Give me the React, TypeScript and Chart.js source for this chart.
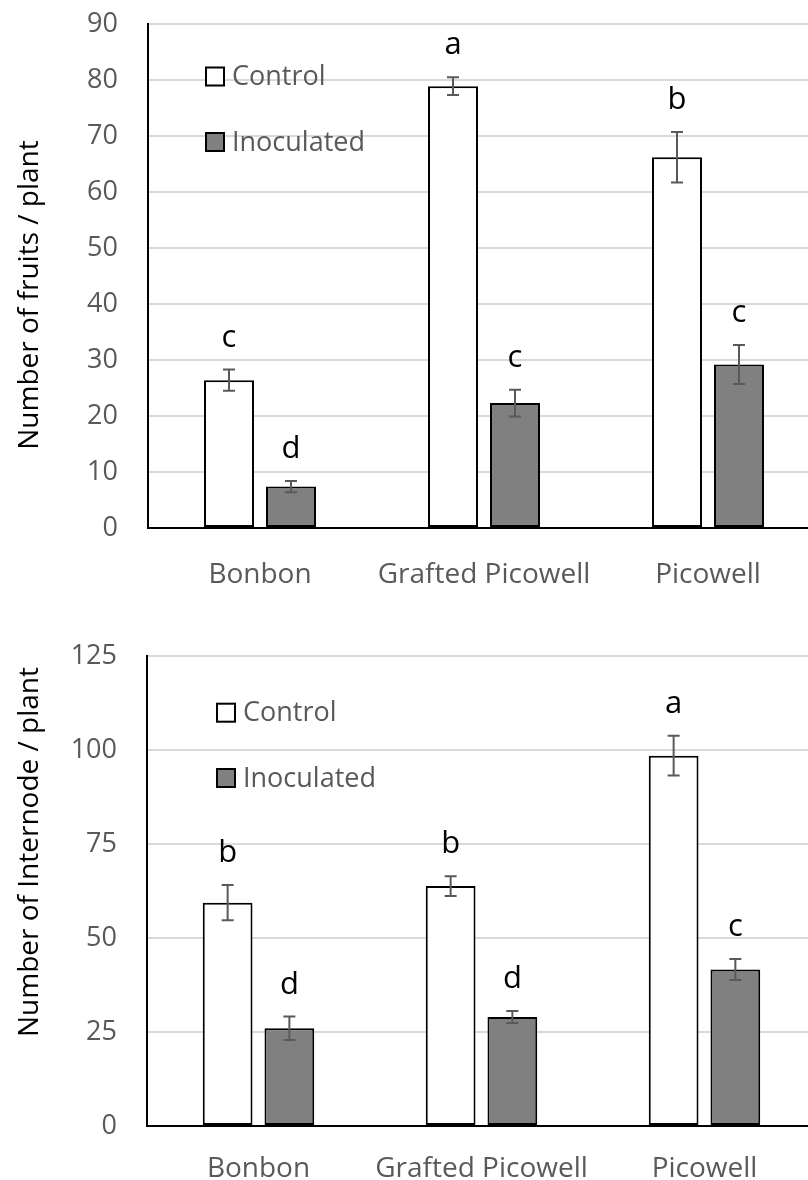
import React, { useEffect, useRef } from "react";
import { Chart, registerables } from "chart.js";

Chart.register(...registerables);

// ---------- DATA ----------
const categories = ["Bonbon", "Grafted Picowell", "Picowell"];
const seriesNames = ["Control", "Inoculated"];

const fruitsControl = [26.4, 78.9, 66.2];
const fruitsControlErr = [1.9, 1.6, 4.5];
const fruitsControlLetters = ["c", "a", "b"];
const fruitsInoculated = [7.4, 22.3, 29.2];
const fruitsInoculatedErr = [1.0, 2.4, 3.5];
const fruitsInoculatedLetters = ["d", "c", "c"];
const fruitsAxisMax = 90;
const fruitsAxisStep = 10;
const fruitsTitle = "Number of fruits / plant";

const internodeControl = [59.4, 63.8, 98.5];
const internodeControlErr = [4.7, 2.6, 5.3];
const internodeControlLetters = ["b", "b", "a"];
const internodeInoculated = [26.0, 29.0, 41.6];
const internodeInoculatedErr = [3.1, 1.6, 2.8];
const internodeInoculatedLetters = ["d", "d", "c"];
const internodeAxisMax = 125;
const internodeAxisStep = 25;
const internodeTitle = "Number of Internode / plant";

// ---------- STYLE ----------
const FONT = "'Open Sans', sans-serif";
const controlFill = "#ffffff";
const inoculatedFill = "#808080";
const grayText = "#595959";

type PanelProps = {
  control: number[];
  controlErr: number[];
  controlLetters: string[];
  inoculated: number[];
  inoculatedErr: number[];
  inoculatedLetters: string[];
  max: number;
  step: number;
  title: string;
  top: number;
  width: number;
  height: number;
  padTop: number;
  padRight: number;
  axisLeft: number;
  xAxisHeight: number;
  xPad: number;
  legendX: number;
  legendYs: number[];
  titleX: number;
  titleY: number;
};

function Panel(p: PanelProps) {
  const ref = useRef<HTMLCanvasElement>(null);

  useEffect(() => {
    const canvas = ref.current;
    if (!canvas) return;

    const errorPlugin = {
      id: "errorsAndLetters",
      afterDatasetsDraw(chart: any) {
        const ctx = chart.ctx;
        const ys = chart.scales.y;
        chart.data.datasets.forEach((ds: any, i: number) => {
          const meta = chart.getDatasetMeta(i);
          meta.data.forEach((bar: any, j: number) => {
            const v = ds.data[j];
            const e = ds.errors[j];
            const yt = ys.getPixelForValue(v + e);
            const yb = ys.getPixelForValue(v - e);
            ctx.save();
            ctx.strokeStyle = grayText;
            ctx.lineWidth = 2;
            ctx.beginPath();
            ctx.moveTo(bar.x, yt);
            ctx.lineTo(bar.x, yb);
            ctx.moveTo(bar.x - 6, yt);
            ctx.lineTo(bar.x + 6, yt);
            ctx.moveTo(bar.x - 6, yb);
            ctx.lineTo(bar.x + 6, yb);
            ctx.stroke();
            ctx.fillStyle = "#000";
            ctx.font = `31px ${FONT}`;
            ctx.textAlign = "center";
            ctx.textBaseline = "alphabetic";
            ctx.fillText(ds.letters[j], bar.x, yt - 23);
            ctx.restore();
          });
        });
      },
    };

    const legendPlugin = {
      id: "insideLegend",
      afterDraw(chart: any) {
        const ctx = chart.ctx;
        chart.data.datasets.forEach((ds: any, i: number) => {
          const cy = p.legendYs[i];
          const size = 18;
          ctx.save();
          ctx.fillStyle = ds.backgroundColor;
          ctx.fillRect(p.legendX, cy - size / 2, size, size);
          ctx.strokeStyle = "#000";
          ctx.lineWidth = 2;
          ctx.strokeRect(p.legendX, cy - size / 2, size, size);
          ctx.fillStyle = grayText;
          ctx.font = `27px ${FONT}`;
          ctx.textAlign = "left";
          ctx.textBaseline = "middle";
          ctx.fillText(ds.label, p.legendX + size + 8, cy + 1);
          ctx.restore();
        });
      },
    };

    const titlePlugin = {
      id: "yTitle",
      afterDraw(chart: any) {
        const ctx = chart.ctx;
        ctx.save();
        ctx.translate(p.titleX, p.titleY);
        ctx.rotate(-Math.PI / 2);
        ctx.fillStyle = "#000";
        ctx.font = `28px ${FONT}`;
        ctx.textAlign = "center";
        ctx.textBaseline = "middle";
        ctx.fillText(p.title, 0, 0);
        ctx.restore();
      },
    };

    const chart = new Chart(canvas, {
      type: "bar",
      data: {
        labels: categories,
        datasets: [
          {
            label: seriesNames[0],
            data: p.control,
            errors: p.controlErr,
            letters: p.controlLetters,
            backgroundColor: controlFill,
            borderColor: "#000",
            borderWidth: 2,
            borderSkipped: false,
            categoryPercentage: 0.5536,
            barPercentage: 0.806,
          } as any,
          {
            label: seriesNames[1],
            data: p.inoculated,
            errors: p.inoculatedErr,
            letters: p.inoculatedLetters,
            backgroundColor: inoculatedFill,
            borderColor: "#000",
            borderWidth: 2,
            borderSkipped: false,
            categoryPercentage: 0.5536,
            barPercentage: 0.806,
          } as any,
        ],
      },
      options: {
        responsive: false,
        animation: false,
        devicePixelRatio: 1,
        layout: { padding: { left: 0, top: p.padTop, right: p.padRight, bottom: 0 } },
        plugins: {
          legend: { display: false },
          tooltip: { enabled: false },
          title: { display: false },
        },
        scales: {
          x: {
            grid: { display: false, drawTicks: false },
            border: { display: true, color: "#000", width: 2 },
            ticks: {
              color: grayText,
              font: { family: FONT, size: 28 },
              padding: p.xPad,
              maxRotation: 0,
              autoSkip: false,
            },
            afterFit: (s: any) => {
              s.height = p.xAxisHeight;
              s.paddingLeft = 0;
              s.paddingRight = 0;
            },
          },
          y: {
            min: 0,
            max: p.max,
            ticks: {
              stepSize: p.step,
              color: grayText,
              font: { family: FONT, size: 27 },
              padding: 30,
            },
            grid: {
              drawTicks: false,
              lineWidth: 2,
              color: (c: any) => (c.tick && c.tick.value === 0 ? "#000" : "#d9d9d9"),
            },
            border: { display: true, color: "#000", width: 2 },
            afterFit: (s: any) => {
              s.width = p.axisLeft;
              s.paddingTop = 0;
              s.paddingBottom = 0;
            },
          },
        },
      } as any,
      plugins: [errorPlugin, legendPlugin, titlePlugin],
    });

    return () => chart.destroy();
  }, []);

  return (
    <div style={{ position: "absolute", left: 0, top: p.top, width: p.width, height: p.height }}>
      <canvas
        ref={ref}
        width={p.width}
        height={p.height}
        style={{ display: "block", width: p.width, height: p.height }}
      />
    </div>
  );
}

export default function App() {
  return (
    <div
      style={{
        position: "absolute",
        left: 0,
        top: 0,
        width: 808,
        height: 1180,
        overflow: "hidden",
        background: "#fff",
      }}
    >
      <Panel
        control={fruitsControl}
        controlErr={fruitsControlErr}
        controlLetters={fruitsControlLetters}
        inoculated={fruitsInoculated}
        inoculatedErr={fruitsInoculatedErr}
        inoculatedLetters={fruitsInoculatedLetters}
        max={fruitsAxisMax}
        step={fruitsAxisStep}
        title={fruitsTitle}
        top={0}
        width={840}
        height={600}
        padTop={24}
        padRight={20}
        axisLeft={148}
        xAxisHeight={72}
        xPad={30}
        legendX={206}
        legendYs={[76.5, 142]}
        titleX={30}
        titleY={295}
      />
      <Panel
        control={internodeControl}
        controlErr={internodeControlErr}
        controlLetters={internodeControlLetters}
        inoculated={internodeInoculated}
        inoculatedErr={internodeInoculatedErr}
        inoculatedLetters={internodeInoculatedLetters}
        max={internodeAxisMax}
        step={internodeAxisStep}
        title={internodeTitle}
        top={600}
        width={840}
        height={580}
        padTop={56}
        padRight={24}
        axisLeft={147}
        xAxisHeight={54}
        xPad={26}
        legendX={217}
        legendYs={[112.7, 178]}
        titleX={30}
        titleY={252}
      />
    </div>
  );
}
